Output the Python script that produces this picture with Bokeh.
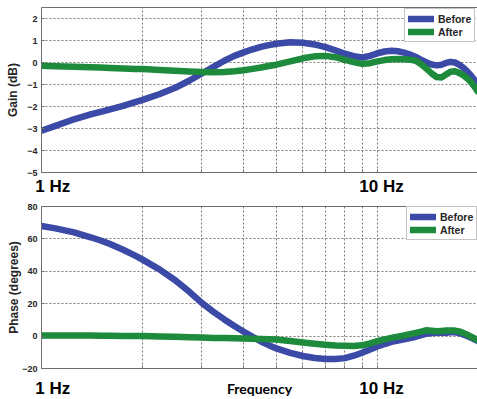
from bokeh.plotting import figure
from bokeh.models import Range1d, FixedTicker, LinearAxis, LogAxis, Legend, LegendItem
from bokeh.layouts import column
from bokeh.embed import file_html
from bokeh.resources import INLINE

# Frequency response of the system before and after compensation
freq = [1, 1.1, 1.25, 1.4, 1.5, 1.6, 1.75, 1.9, 2, 2.25, 2.5, 2.75, 3, 3.25,
        3.5, 3.75, 4, 4.25, 4.5, 4.75, 5, 5.5, 6, 6.5, 7, 7.5, 8, 8.5, 9,
        9.5, 10, 10.5, 11, 11.5, 12, 12.5, 13, 13.5, 14, 14.5, 15, 15.5, 16,
        16.5, 17, 17.5, 18, 18.5, 19, 19.5, 19.85]

gain_before = [-3.1, -2.88, -2.58, -2.36, -2.24, -2.13, -1.97, -1.8, -1.7,
               -1.43, -1.15, -0.83, -0.5, -0.2, 0.08, 0.3, 0.46, 0.6, 0.71,
               0.79, 0.85, 0.92, 0.9, 0.82, 0.7, 0.55, 0.4, 0.29, 0.23, 0.3,
               0.42, 0.5, 0.53, 0.51, 0.45, 0.36, 0.25, 0.12, 0.0, -0.09,
               -0.13, -0.1, -0.02, 0.03, 0.0, -0.1, -0.23, -0.4, -0.6, -0.82,
               -1.0]
gain_after = [-0.15, -0.17, -0.19, -0.22, -0.23, -0.25, -0.27, -0.29, -0.3,
              -0.34, -0.38, -0.41, -0.43, -0.44, -0.43, -0.4, -0.35, -0.29,
              -0.23, -0.16, -0.1, 0.05, 0.19, 0.28, 0.3, 0.24, 0.12, 0.02,
              -0.06, -0.03, 0.05, 0.11, 0.15, 0.16, 0.15, 0.13, 0.08, -0.08,
              -0.28, -0.5, -0.66, -0.68, -0.55, -0.42, -0.4, -0.47, -0.58,
              -0.72, -0.9, -1.12, -1.3]

phase_before = [68, 66.5, 64, 61, 59, 56.8, 53.3, 49.7, 47.2, 41, 34.5, 27.5,
                20.5, 15, 10.3, 6.2, 2.7, -0.5, -3.3, -5.6, -7.6, -10.4,
                -12.3, -13.5, -14.1, -14.2, -13.6, -12.1, -10.3, -8.3, -6.4,
                -4.9, -3.6, -2.7, -2, -1.2, -0.4, 0.6, 1.5, 1.9, 2, 2, 2.1,
                2.3, 2.4, 1.9, 1, 0, -1, -2.2, -3]
phase_after = [0.3, 0.3, 0.3, 0.3, 0.2, 0.2, 0.1, 0.1, 0, -0.2, -0.4, -0.7,
               -0.9, -1.1, -1.2, -1.4, -1.5, -1.6, -1.8, -1.9, -2.1, -3, -3.9,
               -4.7, -5.3, -5.8, -6, -6.1, -5.7, -4.5, -3.1, -2, -1.1, -0.3,
               0.4, 1.2, 2, 2.8, 3.6, 3.3, 3, 3.2, 3.4, 3.5, 3.4, 2.9, 2,
               0.9, -0.4, -1.6, -2.4]

x_grid_ticks = [1, 2, 3, 4, 5, 6, 7, 8, 9, 10, 20]
gain_ticks = [-5, -4, -3, -2, -1, 0, 1, 2]
phase_ticks = [-20, 0, 20, 40, 60, 80]
series_names = ["Before", "After"]

# where the decade captions sit along the frequency axis
freq_caption_pos = [1.08, 10.28]
freq_caption_text = ["1 Hz", "10 Hz"]

BLUE = "#3B4AA6"
GREEN = "#1D8B3B"
FRAME = "#6E6E6E"
GRID = "#7A7A7A"
TXT = "#262626"
SANS = "Liberation Sans"


def make_panel(y_values, y_range, y_ticks, y_label, label_standoff,
               height, bottom_border, caption_standoff, x_word, legend_xy):
    p = figure(width=477, height=height, x_axis_type="log",
               x_range=Range1d(1, 19.85), y_range=Range1d(*y_range),
               output_backend="svg", toolbar_location=None,
               min_border_left=41, min_border_right=0, min_border_top=7,
               min_border_bottom=bottom_border)
    p.outline_line_color = None
    p.background_fill_color = "white"
    p.border_fill_color = "white"

    # frequency axis: inward ticks on every grid line, no numbers
    p.xaxis.ticker = FixedTicker(ticks=x_grid_ticks)
    p.xaxis.major_label_overrides = {t: "" for t in x_grid_ticks}
    p.xaxis.major_label_text_font_size = "1px"
    p.xaxis.major_label_standoff = 0
    p.xaxis.major_tick_in = 3
    p.xaxis.major_tick_out = 0
    p.xaxis.minor_tick_line_color = None
    p.xaxis.axis_line_color = FRAME
    p.xaxis.major_tick_line_color = FRAME

    # decade captions (and the axis title) on a bare second axis
    cap = LogAxis(ticker=FixedTicker(ticks=freq_caption_pos),
                  major_label_overrides=dict(zip(freq_caption_pos,
                                                 freq_caption_text)),
                  axis_line_color=None, major_tick_line_color=None,
                  minor_tick_line_color=None, major_tick_in=0,
                  major_tick_out=0, major_label_standoff=caption_standoff,
                  major_label_text_font=SANS,
                  major_label_text_font_style="bold",
                  major_label_text_font_size="17px",
                  major_label_text_color="black")
    if x_word:
        cap.axis_label = x_word
        cap.axis_label_text_font = "Lato"
        cap.axis_label_text_font_style = "bold"
        cap.axis_label_text_font_size = "14px"
        cap.axis_label_text_color = "black"
        cap.axis_label_standoff = -21
    p.add_layout(cap, "below")

    p.yaxis.ticker = FixedTicker(ticks=y_ticks)
    p.yaxis.major_tick_in = 3
    p.yaxis.major_tick_out = 0
    p.yaxis.minor_tick_line_color = None
    p.yaxis.axis_line_color = FRAME
    p.yaxis.major_tick_line_color = FRAME
    p.yaxis.major_label_standoff = 4
    p.yaxis.major_label_text_font = SANS
    p.yaxis.major_label_text_font_style = "bold"
    p.yaxis.major_label_text_font_size = "9px"
    p.yaxis.major_label_text_color = TXT
    p.yaxis.axis_label = y_label
    p.yaxis.axis_label_text_font = SANS
    p.yaxis.axis_label_text_font_style = "bold"
    p.yaxis.axis_label_text_font_size = "12px"
    p.yaxis.axis_label_text_color = TXT
    p.yaxis.axis_label_standoff = label_standoff

    top = LinearAxis(ticker=FixedTicker(ticks=[]), major_tick_out=0,
                     major_tick_in=0, major_label_standoff=0,
                     major_label_text_font_size="1px",
                     axis_line_color=FRAME, minor_tick_line_color=None)
    p.add_layout(top, "above")

    # dotted grid
    for g in (p.xgrid, p.ygrid):
        g.grid_line_color = GRID
        g.grid_line_dash = "2 2"
        g.grid_line_width = 1

    # curves
    r_before = p.line(freq, y_values[0], line_color=BLUE, line_width=6.5,
                      line_join="round", line_cap="round")
    r_after = p.line(freq, y_values[1], line_color=GREEN, line_width=6.5,
                     line_join="round", line_cap="round")

    legend = Legend(items=[LegendItem(label=series_names[0], renderers=[r_before]),
                           LegendItem(label=series_names[1], renderers=[r_after])],
                    location=legend_xy, margin=0, padding=3, spacing=0,
                    glyph_width=26, glyph_height=13, label_height=13,
                    label_standoff=4,
                    label_text_font=SANS, label_text_font_style="bold",
                    label_text_font_size="10.5px", label_text_color=TXT,
                    border_line_color="#8A8A8A", border_line_width=1,
                    background_fill_color="white", background_fill_alpha=1)
    p.add_layout(legend, "center")
    return p


p_gain = make_panel((gain_before, gain_after), (-5, 2.5), gain_ticks,
                    "Gain (dB)", 4, 199, 27, 4, None, (363, 130))
p_phase = make_panel((phase_before, phase_after), (-20, 80), phase_ticks,
                     "Phase (degrees)", -2, 200, 28, 10, "Frequency",
                     (365, 128))

layout = column(p_gain, p_phase, spacing=0)
open("out.html", "w").write(file_html(layout, INLINE))
